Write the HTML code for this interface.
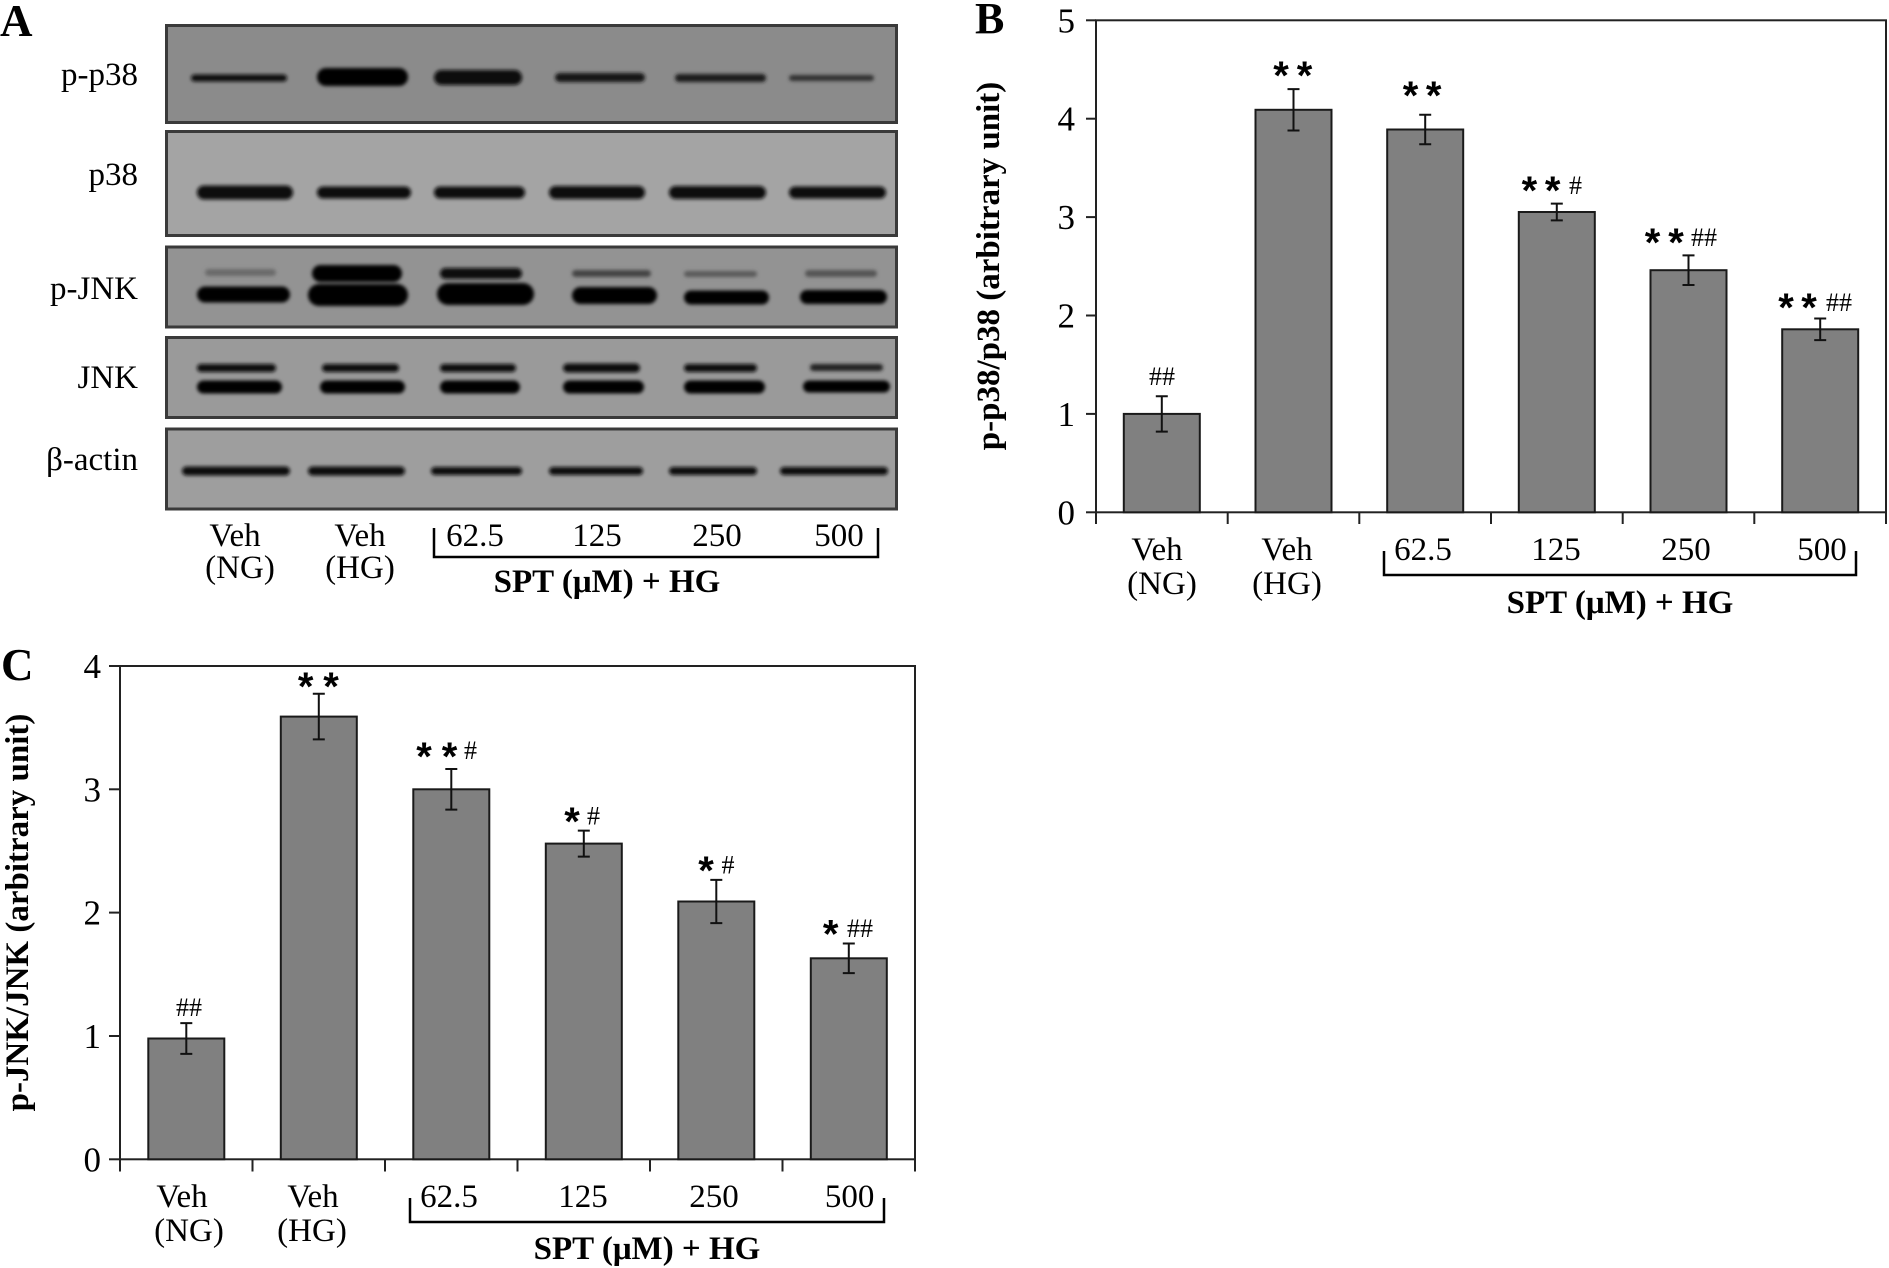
<!DOCTYPE html>
<html><head><meta charset="utf-8"><style>
html,body{margin:0;padding:0;background:#fff;}
svg{display:block;}
.t{font-family:"Liberation Serif",serif;fill:#000;}
.b{font-family:"Liberation Serif",serif;font-weight:bold;fill:#000;}
.s{font-family:"Liberation Sans",sans-serif;font-weight:bold;fill:#000;}
</style></head><body>
<svg width="1889" height="1268" viewBox="0 0 1889 1268" xmlns="http://www.w3.org/2000/svg">
<defs>
<filter id="bl" x="-20%" y="-150%" width="140%" height="400%"><feGaussianBlur stdDeviation="1.9"/></filter>
</defs>
<rect width="1889" height="1268" fill="#fff"/>

<!-- ================= PANEL A ================= -->
<text class="b" x="0" y="36" font-size="45">A</text>
<g stroke="#3a3a3a" stroke-width="3">
<rect x="166.5" y="25.5" width="730" height="97" fill="#8b8b8b"/>
<rect x="166.5" y="131.5" width="730" height="104" fill="#a4a4a4"/>
<rect x="166.5" y="247" width="730" height="80" fill="#939393"/>
<rect x="166.5" y="337.5" width="730" height="80" fill="#9a9a9a"/>
<rect x="166.5" y="429" width="730" height="80" fill="#9e9e9e"/>
</g>
<g filter="url(#bl)">
<!-- p-p38 -->
<rect x="191" y="74.5" width="96" height="7" rx="3.5" fill="#111"/>
<rect x="317" y="68" width="91" height="18" rx="9" fill="#050505"/>
<rect x="434" y="70" width="88" height="15" rx="7.5" fill="#080808"/>
<rect x="555" y="73" width="90" height="9" rx="4.5" fill="#151515"/>
<rect x="675" y="74" width="91" height="8" rx="4" fill="#1a1a1a"/>
<rect x="789" y="75" width="85" height="6" rx="3" fill="#333"/>
<!-- p38 -->
<rect x="197" y="185.5" width="96" height="14" rx="7" fill="#0a0a0a"/>
<rect x="317" y="186.5" width="94" height="12" rx="6" fill="#0a0a0a"/>
<rect x="434" y="186.5" width="91" height="12" rx="6" fill="#0a0a0a"/>
<rect x="549" y="186" width="96" height="13" rx="6.5" fill="#0a0a0a"/>
<rect x="669" y="186" width="97" height="13" rx="6.5" fill="#0a0a0a"/>
<rect x="789" y="186.5" width="97" height="12" rx="6" fill="#0a0a0a"/>
<!-- p-JNK -->
<rect x="205" y="269" width="71" height="7" rx="3.5" fill="#6a6a6a"/>
<rect x="197" y="286.5" width="93" height="16" rx="8" fill="#050505"/>
<rect x="312" y="265" width="90" height="17" rx="8.5" fill="#000"/>
<rect x="308" y="284" width="100" height="22" rx="11" fill="#000"/>
<rect x="440" y="268" width="82" height="11" rx="5.5" fill="#080808"/>
<rect x="437" y="283" width="97" height="22" rx="11" fill="#000"/>
<rect x="572" y="270" width="79" height="7" rx="3.5" fill="#444"/>
<rect x="572" y="287" width="85" height="17" rx="8.5" fill="#050505"/>
<rect x="684" y="271" width="73" height="6" rx="3" fill="#5a5a5a"/>
<rect x="684" y="290.5" width="85" height="14" rx="7" fill="#050505"/>
<rect x="805" y="270" width="72" height="7" rx="3.5" fill="#555"/>
<rect x="800" y="290" width="87" height="14" rx="7" fill="#050505"/>
<!-- JNK -->
<rect x="197" y="364" width="79" height="8" rx="4" fill="#111"/>
<rect x="197" y="380.5" width="85" height="13" rx="6.5" fill="#050505"/>
<rect x="322" y="364" width="77" height="8" rx="4" fill="#0d0d0d"/>
<rect x="320" y="380.5" width="85" height="13" rx="6.5" fill="#050505"/>
<rect x="440" y="364" width="76" height="8" rx="4" fill="#111"/>
<rect x="440" y="380.5" width="80" height="13" rx="6.5" fill="#050505"/>
<rect x="563" y="363.5" width="77" height="9" rx="4.5" fill="#0d0d0d"/>
<rect x="563" y="380.5" width="81" height="13" rx="6.5" fill="#050505"/>
<rect x="684" y="364" width="73" height="8" rx="4" fill="#111"/>
<rect x="684" y="380.5" width="81" height="13" rx="6.5" fill="#050505"/>
<rect x="810" y="364" width="73" height="7" rx="3.5" fill="#222"/>
<rect x="803" y="380.5" width="87" height="12" rx="6" fill="#050505"/>
<!-- beta-actin -->
<rect x="182" y="466.5" width="108" height="9" rx="4.5" fill="#0a0a0a"/>
<rect x="308" y="466.5" width="97" height="9" rx="4.5" fill="#0a0a0a"/>
<rect x="431" y="467" width="91" height="8" rx="4" fill="#0a0a0a"/>
<rect x="549" y="467" width="94" height="8" rx="4" fill="#0a0a0a"/>
<rect x="669" y="467" width="88" height="8" rx="4" fill="#0a0a0a"/>
<rect x="780" y="467" width="108" height="8" rx="4" fill="#0a0a0a"/>
</g>
<g class="t" font-size="33" text-anchor="end">
<text x="138" y="85">p-p38</text>
<text x="138" y="185">p38</text>
<text x="138" y="299">p-JNK</text>
<text x="138" y="388">JNK</text>
<text x="138" y="470">β-actin</text>
</g>
<g class="t" font-size="33" text-anchor="middle">
<text x="235" y="546">Veh</text><text x="240" y="578">(NG)</text>
<text x="360" y="546">Veh</text><text x="360" y="578">(HG)</text>
<text x="475" y="546">62.5</text>
<text x="597" y="546">125</text>
<text x="717" y="546">250</text>
<text x="839" y="546">500</text>
</g>
<path d="M434,528 V557 H878 V528" fill="none" stroke="#000" stroke-width="2.5"/>
<text class="b" x="607" y="592" font-size="33" text-anchor="middle">SPT (μM) + HG</text>

<!-- ================= PANEL B ================= -->
<text class="b" x="975" y="33" font-size="44">B</text>
<text class="b" font-size="33" text-anchor="middle" transform="translate(999,266) rotate(-90)">p-p38/p38 (arbitrary unit)</text>
<rect x="1096" y="20.3" width="790" height="492" fill="none" stroke="#222" stroke-width="2"/>
<g stroke="#222" stroke-width="2">
<line x1="1086" y1="512.3" x2="1096" y2="512.3"/>
<line x1="1086" y1="413.9" x2="1096" y2="413.9"/>
<line x1="1086" y1="315.5" x2="1096" y2="315.5"/>
<line x1="1086" y1="217.1" x2="1096" y2="217.1"/>
<line x1="1086" y1="118.7" x2="1096" y2="118.7"/>
<line x1="1086" y1="20.3" x2="1096" y2="20.3"/>
<line x1="1096" y1="512" x2="1096" y2="524"/>
<line x1="1227.7" y1="512" x2="1227.7" y2="524"/>
<line x1="1359.3" y1="512" x2="1359.3" y2="524"/>
<line x1="1491" y1="512" x2="1491" y2="524"/>
<line x1="1622.7" y1="512" x2="1622.7" y2="524"/>
<line x1="1754.3" y1="512" x2="1754.3" y2="524"/>
<line x1="1886" y1="512" x2="1886" y2="524"/>
</g>
<g class="t" font-size="35" text-anchor="end">
<text x="1075" y="524.3">0</text>
<text x="1075" y="425.9">1</text>
<text x="1075" y="327.5">2</text>
<text x="1075" y="229.1">3</text>
<text x="1075" y="130.7">4</text>
<text x="1075" y="32.3">5</text>
</g>
<g fill="#808080" stroke="#1a1a1a" stroke-width="2">
<rect x="1123.8" y="413.9" width="76" height="98.4"/>
<rect x="1255.5" y="109.8" width="76" height="402.5"/>
<rect x="1387.2" y="129.5" width="76" height="382.8"/>
<rect x="1518.8" y="212" width="76" height="300.3"/>
<rect x="1650.5" y="270.2" width="76" height="242.1"/>
<rect x="1782.2" y="329.3" width="76" height="183"/>
</g>
<g stroke="#111" stroke-width="2" fill="none">
<path d="M1161.8,396.2 V431.6 M1155.8,396.2 H1167.8 M1155.8,431.6 H1167.8"/>
<path d="M1293.5,89.1 V130.5 M1287.5,89.1 H1299.5 M1287.5,130.5 H1299.5"/>
<path d="M1425.2,114.7 V144.3 M1419.2,114.7 H1431.2 M1419.2,144.3 H1431.2"/>
<path d="M1556.8,203.6 V220.4 M1550.8,203.6 H1562.8 M1550.8,220.4 H1562.8"/>
<path d="M1688.5,255.4 V285 M1682.5,255.4 H1694.5 M1682.5,285 H1694.5"/>
<path d="M1820.2,318.5 V340.1 M1814.2,318.5 H1826.2 M1814.2,340.1 H1826.2"/>
</g>
<g class="s" font-size="40" text-anchor="middle">
<text x="1281" y="89">*</text><text x="1304.5" y="89">*</text>
<text x="1410.5" y="109">*</text><text x="1433.7" y="109">*</text>
<text x="1529.4" y="204">*</text><text x="1552.7" y="204">*</text>
<text x="1652.6" y="256">*</text><text x="1676" y="256">*</text>
<text x="1786" y="321">*</text><text x="1809" y="321">*</text>
</g>
<g class="t" font-size="26">
<text x="1162" y="385" text-anchor="middle">##</text>
<text x="1569" y="194">#</text>
<text x="1691" y="246">##</text>
<text x="1826" y="311">##</text>
</g>
<g class="t" font-size="33" text-anchor="middle">
<text x="1157" y="560">Veh</text><text x="1162" y="594">(NG)</text>
<text x="1287" y="560">Veh</text><text x="1287" y="594">(HG)</text>
<text x="1423" y="560">62.5</text>
<text x="1556" y="560">125</text>
<text x="1686" y="560">250</text>
<text x="1822" y="560">500</text>
</g>
<path d="M1384,551 V575 H1856 V551" fill="none" stroke="#000" stroke-width="2.5"/>
<text class="b" x="1620" y="613" font-size="33" text-anchor="middle">SPT (μM) + HG</text>

<!-- ================= PANEL C ================= -->
<text class="b" x="1" y="680" font-size="45">C</text>
<text class="b" font-size="33" text-anchor="middle" transform="translate(28,912.5) rotate(-90)">p-JNK/JNK (arbitrary unit)</text>
<rect x="120" y="666" width="795" height="493.3" fill="none" stroke="#222" stroke-width="2"/>
<g stroke="#222" stroke-width="2">
<line x1="109" y1="1159.3" x2="120" y2="1159.3"/>
<line x1="109" y1="1036" x2="120" y2="1036"/>
<line x1="109" y1="912.6" x2="120" y2="912.6"/>
<line x1="109" y1="789.3" x2="120" y2="789.3"/>
<line x1="109" y1="666" x2="120" y2="666"/>
<line x1="120" y1="1159" x2="120" y2="1171.5"/>
<line x1="252.5" y1="1159" x2="252.5" y2="1171.5"/>
<line x1="385" y1="1159" x2="385" y2="1171.5"/>
<line x1="517.5" y1="1159" x2="517.5" y2="1171.5"/>
<line x1="650" y1="1159" x2="650" y2="1171.5"/>
<line x1="782.5" y1="1159" x2="782.5" y2="1171.5"/>
<line x1="915" y1="1159" x2="915" y2="1171.5"/>
</g>
<g class="t" font-size="35" text-anchor="end">
<text x="101" y="1171.3">0</text>
<text x="101" y="1048">1</text>
<text x="101" y="924.6">2</text>
<text x="101" y="801.3">3</text>
<text x="101" y="678">4</text>
</g>
<g fill="#808080" stroke="#1a1a1a" stroke-width="2">
<rect x="148.3" y="1038.5" width="76" height="120.8"/>
<rect x="280.8" y="716.6" width="76" height="442.7"/>
<rect x="413.3" y="789.3" width="76" height="370"/>
<rect x="545.8" y="843.6" width="76" height="315.7"/>
<rect x="678.3" y="901.5" width="76" height="257.8"/>
<rect x="810.8" y="958.3" width="76" height="201"/>
</g>
<g stroke="#111" stroke-width="2" fill="none">
<path d="M186.3,1023.1 V1053.9 M180.3,1023.1 H192.3 M180.3,1053.9 H192.3"/>
<path d="M318.8,693.8 V739.4 M312.8,693.8 H324.8 M312.8,739.4 H324.8"/>
<path d="M451.3,769 V809.6 M445.3,769 H457.3 M445.3,809.6 H457.3"/>
<path d="M583.8,830.6 V856.6 M577.8,830.6 H589.8 M577.8,856.6 H589.8"/>
<path d="M716.3,879.9 V923.1 M710.3,879.9 H722.3 M710.3,923.1 H722.3"/>
<path d="M848.8,943.5 V973.1 M842.8,943.5 H854.8 M842.8,973.1 H854.8"/>
</g>
<g class="s" font-size="40" text-anchor="middle">
<text x="305.7" y="700">*</text><text x="331" y="700">*</text>
<text x="424" y="770">*</text><text x="449.5" y="770">*</text>
<text x="572" y="835">*</text>
<text x="706" y="884">*</text>
<text x="830.7" y="947.5">*</text>
</g>
<g class="t" font-size="26">
<text x="189" y="1016" text-anchor="middle">##</text>
<text x="464" y="759">#</text>
<text x="587" y="824.5">#</text>
<text x="721.5" y="873.5">#</text>
<text x="847" y="937">##</text>
</g>
<g class="t" font-size="33" text-anchor="middle">
<text x="182" y="1207">Veh</text><text x="189" y="1241">(NG)</text>
<text x="313" y="1207">Veh</text><text x="312" y="1241">(HG)</text>
<text x="449" y="1207">62.5</text>
<text x="583" y="1207">125</text>
<text x="714" y="1207">250</text>
<text x="849.6" y="1207">500</text>
</g>
<path d="M410,1198 V1222 H884 V1198" fill="none" stroke="#000" stroke-width="2.5"/>
<text class="b" x="647" y="1259" font-size="33" text-anchor="middle">SPT (μM) + HG</text>
</svg>
</body></html>
